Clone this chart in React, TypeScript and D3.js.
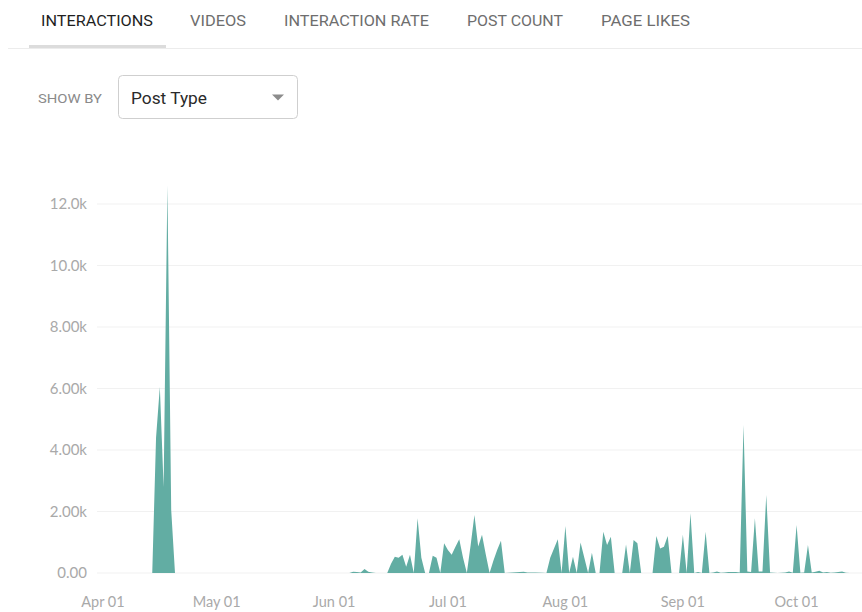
import * as d3 from "d3";

// interactions per day, [day of month, value]
const april: [number, number][] = [
  [14, 0], [15, 4400], [16, 6050], [17, 2800], [18, 12600], [19, 2050], [20, 0],
];
const june: [number, number][] = [
  [5, 0], [6, 40], [7, 30], [8, 20], [9, 130], [10, 40], [11, 20], [12, 0],
  [15, 0], [16, 300], [17, 530], [18, 500], [19, 590], [20, 200], [21, 590], [22, 0],
  [23, 1780], [24, 500], [25, 0], [26, 0], [27, 560], [28, 500], [29, 0], [30, 970],
];
const july: [number, number][] = [
  [1, 750], [2, 590], [3, 850], [4, 1100], [5, 500], [6, 0], [7, 900], [8, 1890],
  [9, 860], [10, 1240], [11, 600], [12, 0], [13, 400], [14, 750], [15, 1050], [16, 0],
  [17, 10], [18, 20], [20, 30], [21, 40], [22, 20], [24, 20], [26, 10], [27, 0],
  [28, 500], [29, 800], [30, 1100], [31, 0],
];
const august: [number, number][] = [
  [1, 1530], [2, 0], [3, 530], [4, 0], [5, 990], [6, 500], [7, 0], [8, 660], [9, 0],
  [10, 0], [11, 1340], [12, 910], [13, 1180], [14, 0], [16, 0], [17, 930], [18, 0],
  [19, 1070], [20, 970], [21, 0], [24, 0], [25, 1200], [26, 800], [27, 850], [28, 1200],
  [29, 0], [31, 0],
];
const september: [number, number][] = [
  [1, 1240], [2, 0], [3, 1940], [4, 0], [5, 30], [6, 0], [7, 1340], [8, 0], [9, 20],
  [10, 50], [11, 10], [12, 20], [13, 30], [14, 30], [15, 30], [16, 20], [17, 4810],
  [18, 50], [19, 30], [20, 1780], [21, 50], [22, 50], [23, 2540], [24, 20], [25, 10],
  [26, 0], [27, 10], [28, 20], [29, 50], [30, 10],
];
const october: [number, number][] = [
  [1, 1560], [2, 10], [3, 20], [4, 910], [5, 20], [6, 40], [7, 70], [8, 20], [9, 30],
  [10, 10], [11, 20], [12, 30], [13, 50], [14, 10], [15, 0],
];

const tabs = ["INTERACTIONS", "VIDEOS", "INTERACTION RATE", "POST COUNT", "PAGE LIKES"];
const yTicks = [0, 2000, 4000, 6000, 8000, 10000, 12000];

const months: [number, [number, number][]][] = [
  [3, april], [5, june], [6, july], [7, august], [8, september], [9, october],
];
const data = months.flatMap(([m, rows]) =>
  rows.map(([day, v]) => ({ date: new Date(2018, m, day), value: v }))
);

const tabX = [41, 190, 284, 467, 601];
const tabW = [112, 56, 145, 96, 89];

export default function App() {
  const x = d3
    .scaleTime()
    .domain([new Date(2018, 2, 30), new Date(2018, 9, 20)])
    .range([95.4, 868.6]);
  const y = d3.scaleLinear().domain([0, 12000]).range([573, 204]);
  const fmt = d3.format(".3s");
  const xFmt = d3.timeFormat("%b %d");

  const area = d3
    .area<{ date: Date; value: number }>()
    .x((d) => x(d.date))
    .y0(y(0))
    .y1((d) => y(d.value));

  const font = "Lato, 'Noto Sans', sans-serif";

  return (
    <svg
      width={862}
      height={612}
      style={{ position: "absolute", left: 0, top: 0, background: "#fff" }}
    >
      {/* tabs */}
      {tabs.map((t, i) => (
        <text
          key={t}
          x={tabX[i]}
          y={26}
          fontFamily="Roboto, sans-serif"
          fontSize={15}
          fill={i === 0 ? "#1f1f1f" : "#6e6e6e"}
          textLength={tabW[i]}
          lengthAdjust="spacingAndGlyphs"
        >
          {t}
        </text>
      ))}
      <line x1={8} x2={862} y1={48.5} y2={48.5} stroke="#ececec" />
      <rect x={29} y={45} width={137} height={3} fill="#dcdcdc" />

      {/* show by */}
      <text
        x={38}
        y={103}
        fontFamily="Roboto, sans-serif"
        fontSize={13}
        fill="#8a8a8a"
        textLength={64}
        lengthAdjust="spacingAndGlyphs"
      >
        SHOW BY
      </text>
      <rect x={118.5} y={75.5} width={179} height={43} rx={4} fill="#fff" stroke="#cfcfcf" />
      <text
        x={131}
        y={104}
        fontFamily="Roboto, sans-serif"
        fontSize={17}
        fill="#2a2a2a"
        textLength={76}
        lengthAdjust="spacingAndGlyphs"
      >
        Post Type
      </text>
      <path d="M272,94.5 L284,94.5 L278,100.5 Z" fill="#8c8c8c" />

      {/* grid + y labels */}
      {yTicks.map((t) => (
        <g key={t}>
          <line x1={97} x2={862} y1={y(t)} y2={y(t)} stroke="#f1f1f1" />
          <text
            x={87}
            y={y(t)}
            dy="0.35em"
            textAnchor="end"
            fontFamily={font}
            fontSize={15}
            fill="#a9a9a9"
          >
            {fmt(t)}
          </text>
        </g>
      ))}

      {/* area */}
      <path d={area(data) ?? ""} fill="#62ada3" />

      {/* x labels */}
      {x.ticks(d3.timeMonth.every(1)).map((d) => (
        <text
          key={+d}
          x={x(d)}
          y={607}
          textAnchor="middle"
          fontFamily={font}
          fontSize={14.5}
          fill="#a9a9a9"
        >
          {xFmt(d)}
        </text>
      ))}
    </svg>
  );
}
